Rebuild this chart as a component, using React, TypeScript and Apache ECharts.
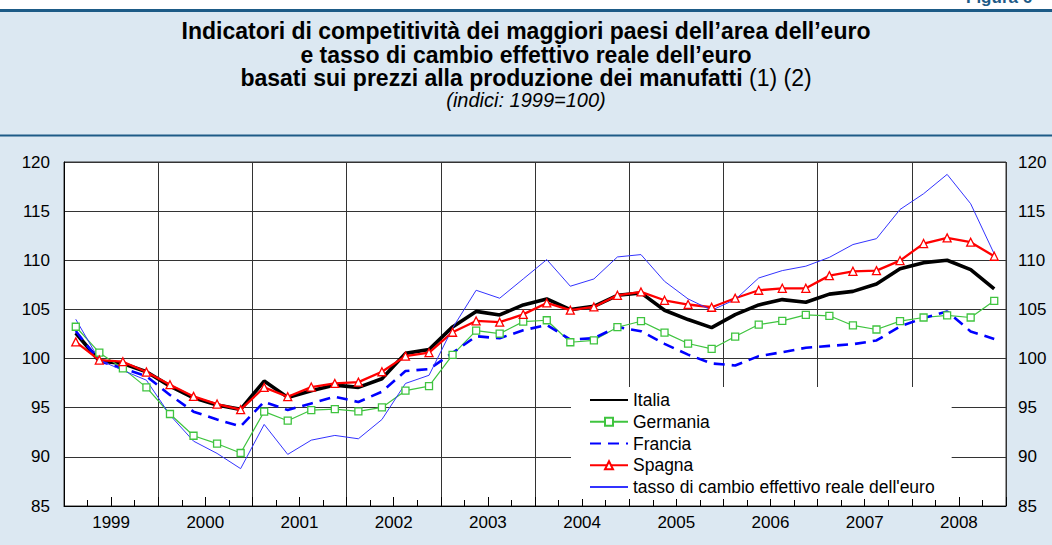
import React, { useEffect, useRef } from "react";
import * as echarts from "echarts";

const FONT = "'Liberation Sans', Arial, Helvetica, sans-serif";
const DARK = "#1d5b87";
const BG = "#dce8f2";

const years = ["1999", "2000", "2001", "2002", "2003", "2004", "2005", "2006", "2007", "2008"];
const quarterNames = ["T1", "T2", "T3", "T4"];
const halfNames = ["S1", "S2"];
const quarters = years.flatMap((y) => quarterNames.map((q) => `${y} ${q}`));
const halves = years.flatMap((y) => halfNames.map((h) => `${y} ${h}`));

const yTicks = { min: 85, max: 120, interval: 5 };

const italia = [
  102.6, 99.75, 99.5, 98.66, 97.2, 96.0, 95.27, 94.83,
  97.71, 96.05, 96.73, 97.3, 97.07, 97.95, 100.53, 100.93,
  103.22, 104.8, 104.44, 105.46, 106.07, 104.98, 105.32, 106.44,
  106.68, 104.92, 103.97, 103.15, 104.47, 105.46, 106.0, 105.73,
  106.56, 106.84, 107.59, 109.15, 109.76, 110.0, 109.05, 107.1,
];
const germania = [
  103.24, 100.6, 99.0, 97.07, 94.36, 92.15, 91.34, 90.39,
  94.6, 93.68, 94.76, 94.86, 94.63, 95.03, 96.73, 97.2,
  100.37, 102.85, 102.54, 103.76, 103.9, 101.66, 101.86, 103.19,
  103.8, 102.64, 101.53, 100.98, 102.24, 103.46, 103.83, 104.44,
  104.35, 103.37, 102.96, 103.81, 104.18, 104.39, 104.18, 105.88,
];
const francia = [
  102.8, 99.75, 99.0, 98.2, 96.3, 94.6, 93.8, 93.1,
  95.6, 94.76, 95.44, 96.12, 95.58, 96.63, 98.73, 98.93,
  100.58, 102.27, 102.07, 102.88, 103.42, 101.93, 102.07, 103.22,
  102.78, 101.5, 100.4, 99.5, 99.3, 100.25, 100.65, 101.1,
  101.29, 101.46, 101.84, 103.27, 104.12, 104.8, 102.76, 102.0,
];
const spagna = [
  101.7, 99.85, 99.68, 98.63, 97.34, 96.15, 95.37, 94.8,
  97.07, 96.12, 97.1, 97.47, 97.6, 98.66, 100.25, 100.6,
  102.68, 103.83, 103.7, 104.5, 105.66, 104.92, 105.25, 106.44,
  106.78, 105.93, 105.5, 105.22, 106.14, 106.95, 107.15, 107.15,
  108.44, 108.88, 108.95, 109.97, 111.7, 112.28, 111.84, 110.41,
];
const tasso = [
  104.0, 99.85, 98.8, 97.8, 94.25, 91.6, 90.35, 88.8,
  93.3, 90.25, 91.7, 92.18, 91.84, 93.8, 97.47, 98.3,
  103.1, 106.95, 106.14, 108.1, 110.07, 107.36, 108.1, 110.34,
  110.58, 107.86, 106.07, 104.92, 106.0, 108.2, 108.95, 109.4,
  110.3, 111.6, 112.2, 115.17, 116.77, 118.74, 115.75, 110.65,
];

const names = [
  "Italia",
  "Germania",
  "Francia",
  "Spagna",
  "tasso di cambio effettivo reale dell'euro",
];

export default function App() {
  const ref = useRef<HTMLDivElement>(null);

  useEffect(() => {
    if (!ref.current) return;
    const chart = echarts.init(ref.current, undefined, { renderer: "svg" });
    const axisLabelStyle = { fontSize: 17, color: "#000", fontFamily: FONT };
    const hiddenSymbol = { opacity: 0 };
    chart.setOption({
      animation: false,
      textStyle: { fontFamily: FONT },
      graphic: [
        { type: "rect", shape: { x: 0, y: 9, width: 1052, height: 3 }, style: { fill: DARK }, silent: true },
        { type: "rect", shape: { x: 0, y: 134.5, width: 1052, height: 2 }, style: { fill: DARK }, silent: true },
        {
          type: "text", x: 966, y: -11,
          style: { text: "Figura 6", fontSize: 17, fontWeight: "bold", fill: DARK, fontFamily: FONT, textVerticalAlign: "top" },
          silent: true,
        },
        {
          type: "text", x: 526, y: 31,
          style: { text: "Indicatori di competitività dei maggiori paesi dell’area dell’euro", fontSize: 23, fontWeight: "bold", fill: "#000", fontFamily: FONT, textAlign: "center", textVerticalAlign: "middle" },
          silent: true,
        },
        {
          type: "text", x: 526, y: 54.5,
          style: { text: "e tasso di cambio effettivo reale dell’euro", fontSize: 23, fontWeight: "bold", fill: "#000", fontFamily: FONT, textAlign: "center", textVerticalAlign: "middle" },
          silent: true,
        },
        {
          type: "text", x: 526, y: 78,
          style: {
            text: "{b|basati sui prezzi alla produzione dei manufatti}{n| (1) (2)}",
            textAlign: "center", textVerticalAlign: "middle",
            rich: {
              b: { fontSize: 23, fontWeight: "bold", fill: "#000", fontFamily: FONT },
              n: { fontSize: 23, fontWeight: "normal", fill: "#000", fontFamily: FONT },
            },
          },
          silent: true,
        },
        {
          type: "text", x: 526, y: 100,
          style: { text: "(indici: 1999=100)", fontSize: 20, fontStyle: "italic", fill: "#000", fontFamily: FONT, textAlign: "center", textVerticalAlign: "middle" },
          silent: true,
        },
      ],
      grid: {
        left: 64, right: 46, top: 162, bottom: 39,
        show: true, backgroundColor: "#fff", borderColor: "#333", borderWidth: 1,
      },
      legend: {
        orient: "vertical",
        left: 571,
        top: 387,
        padding: [4, 17, 3, 18],
        backgroundColor: "#fff",
        borderWidth: 0,
        itemWidth: 38,
        itemHeight: 10,
        itemGap: 3.75,
        selectedMode: false,
        textStyle: { fontSize: 17.5, lineHeight: 18, color: "#000", fontFamily: FONT },
        data: [
          { name: names[0], itemStyle: hiddenSymbol },
          { name: names[1] },
          { name: names[2], itemStyle: hiddenSymbol },
          { name: names[3] },
          { name: names[4], itemStyle: hiddenSymbol },
        ],
      },
      xAxis: [
        {
          type: "category", data: quarters, boundaryGap: true, position: "bottom",
          axisLine: { show: true, lineStyle: { color: "#000", width: 1 } },
          axisTick: { show: true, inside: true, length: 6, interval: 0, lineStyle: { color: "#000" } },
          axisLabel: { show: false },
          splitLine: { show: false },
        },
        {
          type: "category", data: halves, boundaryGap: true, position: "bottom",
          axisLine: { show: false },
          axisTick: { show: true, inside: true, length: 9, interval: 0, lineStyle: { color: "#000" } },
          axisLabel: { show: false },
          splitLine: { show: false },
        },
        {
          type: "category", data: years, boundaryGap: true, position: "bottom",
          axisLine: { show: false },
          axisTick: { show: false },
          axisLabel: { show: true, interval: 0, margin: 8, ...axisLabelStyle },
          splitLine: { show: true, interval: 0, lineStyle: { color: "#333", width: 1 } },
        },
      ],
      yAxis: [
        {
          type: "value", ...yTicks, position: "left",
          axisLine: { show: true, lineStyle: { color: "#000" } },
          axisTick: { show: false },
          axisLabel: { margin: 14, ...axisLabelStyle },
          splitLine: { show: true, lineStyle: { color: "#333", width: 1 } },
        },
        {
          type: "value", ...yTicks, position: "right",
          axisLine: { show: false },
          axisTick: { show: false },
          axisLabel: { margin: 12, ...axisLabelStyle },
          splitLine: { show: false },
        },
      ],
      series: [
        {
          name: names[0], type: "line", data: italia, xAxisIndex: 0, yAxisIndex: 0,
          symbol: "none", lineStyle: { color: "#000", width: 3.6 }, itemStyle: { color: "#000" },
        },
        {
          name: names[1], type: "line", data: germania, xAxisIndex: 0, yAxisIndex: 0,
          symbol: "rect", symbolSize: 7, showAllSymbol: true,
          lineStyle: { color: "#3fc43f", width: 1.2 },
          itemStyle: { color: "#fff", borderColor: "#3fc43f", borderWidth: 1.3 },
        },
        {
          name: names[2], type: "line", data: francia, xAxisIndex: 0, yAxisIndex: 0,
          symbol: "none", lineStyle: { color: "#0000ff", width: 2.6, type: [11, 7] }, itemStyle: { color: "#0000ff" },
        },
        {
          name: names[3], type: "line", data: spagna, xAxisIndex: 0, yAxisIndex: 0,
          symbol: "triangle", symbolSize: 8, showAllSymbol: true,
          lineStyle: { color: "#ff0000", width: 2.3 },
          itemStyle: { color: "#fff", borderColor: "#ff0000", borderWidth: 1.3 },
        },
        {
          name: names[4], type: "line", data: tasso, xAxisIndex: 0, yAxisIndex: 0,
          symbol: "none", lineStyle: { color: "#3333ff", width: 1 }, itemStyle: { color: "#3333ff" },
        },
      ],
    });
    return () => chart.dispose();
  }, []);

  return (
    <div
      ref={ref}
      style={{
        position: "fixed",
        left: 0,
        top: 0,
        width: 1052,
        height: 545,
        background: `linear-gradient(#fff 0px, #fff 10px, ${BG} 10px, ${BG} 100%)`,
      }}
    />
  );
}
